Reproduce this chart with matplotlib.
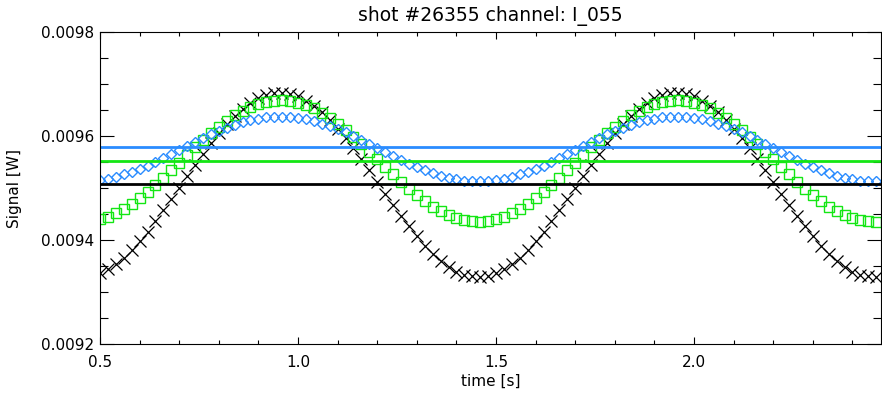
import numpy as np
import matplotlib
matplotlib.use("Agg")
import matplotlib.pyplot as plt
from matplotlib.ticker import MultipleLocator, FormatStrFormatter

# sample times [s]
time = [0.50, 0.52, 0.54, 0.56, 0.58, 0.60, 0.62, 0.64, 0.66, 0.68,
        0.70, 0.72, 0.74, 0.76, 0.78, 0.80, 0.82, 0.84, 0.86, 0.88,
        0.90, 0.92, 0.94, 0.96, 0.98, 1.00, 1.02, 1.04, 1.06, 1.08,
        1.10, 1.12, 1.14, 1.16, 1.18, 1.20, 1.22, 1.24, 1.26, 1.28,
        1.30, 1.32, 1.34, 1.36, 1.38, 1.40, 1.42, 1.44, 1.46, 1.48,
        1.50, 1.52, 1.54, 1.56, 1.58, 1.60, 1.62, 1.64, 1.66, 1.68,
        1.70, 1.72, 1.74, 1.76, 1.78, 1.80, 1.82, 1.84, 1.86, 1.88,
        1.90, 1.92, 1.94, 1.96, 1.98, 2.00, 2.02, 2.04, 2.06, 2.08,
        2.10, 2.12, 2.14, 2.16, 2.18, 2.20, 2.22, 2.24, 2.26, 2.28,
        2.30, 2.32, 2.34, 2.36, 2.38, 2.40, 2.42, 2.44, 2.46]

# signals in micro-watt
black_uW = [9336, 9344, 9354, 9366, 9381, 9398, 9416, 9436, 9457, 9478,
            9500, 9523, 9545, 9566, 9586, 9605, 9623, 9639, 9652, 9664,
            9673, 9679, 9682, 9683, 9681, 9676, 9668, 9658, 9646, 9631,
            9614, 9596, 9576, 9555, 9534, 9512, 9489, 9467, 9446, 9426,
            9407, 9389, 9373, 9360, 9348, 9339, 9333, 9330, 9329, 9331,
            9336, 9344, 9354, 9366, 9381, 9398, 9416, 9436, 9457, 9478,
            9500, 9523, 9545, 9566, 9586, 9605, 9623, 9639, 9652, 9664,
            9673, 9679, 9682, 9683, 9681, 9676, 9668, 9658, 9646, 9631,
            9614, 9596, 9576, 9555, 9534, 9512, 9489, 9467, 9446, 9426,
            9407, 9389, 9373, 9360, 9348, 9339, 9333, 9330, 9329]
green_uW = [9440, 9445, 9451, 9460, 9469, 9480, 9492, 9506, 9519, 9534,
            9548, 9563, 9578, 9592, 9605, 9618, 9629, 9640, 9649, 9656,
            9662, 9666, 9668, 9669, 9668, 9664, 9659, 9653, 9644, 9635,
            9624, 9612, 9598, 9585, 9570, 9556, 9541, 9526, 9512, 9499,
            9486, 9475, 9464, 9455, 9448, 9442, 9438, 9436, 9435, 9436,
            9440, 9445, 9451, 9460, 9469, 9480, 9492, 9506, 9519, 9534,
            9548, 9563, 9578, 9592, 9605, 9618, 9629, 9640, 9649, 9656,
            9662, 9666, 9668, 9669, 9668, 9664, 9659, 9653, 9644, 9635,
            9624, 9612, 9598, 9585, 9570, 9556, 9541, 9526, 9512, 9499,
            9486, 9475, 9464, 9455, 9448, 9442, 9438, 9436, 9435]
blue_uW = [9515, 9518, 9522, 9526, 9531, 9537, 9543, 9550, 9558, 9565,
           9573, 9581, 9589, 9596, 9603, 9610, 9616, 9622, 9626, 9630,
           9633, 9636, 9637, 9637, 9636, 9635, 9632, 9628, 9624, 9619,
           9613, 9607, 9600, 9592, 9585, 9577, 9569, 9561, 9554, 9547,
           9540, 9534, 9528, 9524, 9520, 9517, 9514, 9513, 9513, 9514,
           9515, 9518, 9522, 9526, 9531, 9537, 9543, 9550, 9558, 9565,
           9573, 9581, 9589, 9596, 9603, 9610, 9616, 9622, 9626, 9630,
           9633, 9636, 9637, 9637, 9636, 9635, 9632, 9628, 9624, 9619,
           9613, 9607, 9600, 9592, 9585, 9577, 9569, 9561, 9554, 9547,
           9540, 9534, 9528, 9524, 9520, 9517, 9514, 9513, 9513]

# mean levels (horizontal lines)
mean_black = 0.009508
mean_green = 0.009552
mean_blue = 0.009578

col_blue = '#2a8cff'
col_green = '#14e614'

t = np.array(time)
black = np.array(black_uW) * 1e-6
green = np.array(green_uW) * 1e-6
blue = np.array(blue_uW) * 1e-6

plt.rcParams['font.family'] = 'DejaVu Sans'
fig = plt.figure(figsize=(8.82, 3.97), dpi=100)
ax = fig.add_axes([100 / 882, 1 - 344 / 397, 781 / 882, 312 / 397])

ax.plot(t, black, ls='none', marker='x', ms=8, mew=0.9, color='black')
ax.plot(t, green, ls='none', marker='s', ms=7.5, mew=1.0, mfc='none', mec=col_green)
ax.plot(t, blue, ls='none', marker='D', ms=5.2, mew=1.0, mfc='none', mec=col_blue)

ax.axhline(mean_black, color='black', lw=2)
ax.axhline(mean_green, color=col_green, lw=2)
ax.axhline(mean_blue, color=col_blue, lw=2)

ax.set_xlim(0.5, 2.472)
ax.set_ylim(0.0092, 0.0098)
ax.xaxis.set_major_locator(MultipleLocator(0.5))
ax.xaxis.set_minor_locator(MultipleLocator(0.1))
ax.yaxis.set_major_locator(MultipleLocator(0.0002))
ax.yaxis.set_minor_locator(MultipleLocator(0.00005))
ax.xaxis.set_major_formatter(FormatStrFormatter('%.1f'))
ax.yaxis.set_major_formatter(FormatStrFormatter('%.4f'))

ax.tick_params(which='both', direction='in', top=True, right=True,
               labelsize=11, colors='black', width=0.8)
ax.tick_params(axis='x', which='major', length=5, pad=8)
ax.tick_params(axis='x', which='minor', length=3)
ax.tick_params(axis='y', which='major', length=10, pad=4)
ax.tick_params(axis='y', which='minor', length=6)
for s in ax.spines.values():
    s.set_linewidth(0.8)

ax.set_xlabel('time [s]', fontsize=11, labelpad=3)
ax.set_ylabel('Signal [W]', fontsize=11, labelpad=14)
ax.set_title('shot #26355 channel: I_055', fontsize=13.5, pad=8)

fig.savefig('out.png', dpi=100)
